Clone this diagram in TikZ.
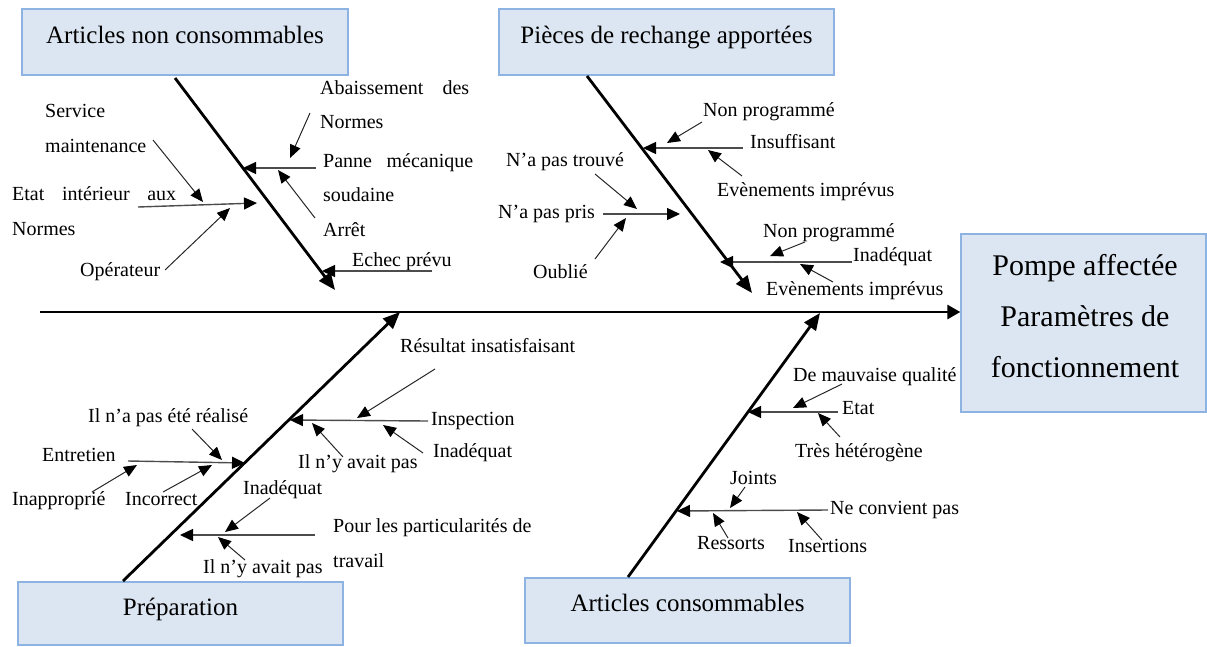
\documentclass[tikz,border=0pt]{standalone}
\usepackage{fontspec}
\setmainfont{Liberation Serif}
\usetikzlibrary{arrows.meta,positioning}

\definecolor{boxfill}{RGB}{220,230,242}
\definecolor{boxline}{RGB}{141,179,226}

\tikzset{
  cat/.style={draw=boxline, fill=boxfill, line width=1.3pt, inner sep=0pt, font=\fontsize{25}{30}\selectfont},
  lbl/.style={anchor=base west, inner sep=0pt},
  bone/.style={line width=2.8pt, -{Triangle[length=17pt,width=14pt]}},
  twig/.style={line width=1.4pt, draw=black!70, -{Triangle[length=13pt,width=12pt,color=black]}},
  hint/.style={line width=1pt, draw=black!85, -{Triangle[length=13pt,width=11pt,color=black]}},
}

\begin{document}
\begin{tikzpicture}[x=1pt, y=-1pt, font=\fontsize{20}{24}\selectfont]
\useasboundingbox (0,0) rectangle (1207,646);

\node[cat, minimum width=326pt, text height=34pt, text depth=32pt] (ancBox) at (185,42) {Articles non consommables};
\node[cat, minimum width=335pt, text height=34pt, text depth=32pt] (prBox) at (666.5,42) {Pièces de rechange apportées};
\node[cat, minimum width=325pt, text height=33pt, text depth=30pt] (prepBox) at (180.5,613.5) {Préparation};
\node[cat, minimum width=325pt, text height=33pt, text depth=32pt] (acBox) at (687.5,610.5) {Articles consommables};
\node[cat, minimum width=245pt, minimum height=178pt] (effet) at (1083.5,323) {};
\node[align=center, inner sep=0pt, font=\fontsize{30}{51}\selectfont] (effetTxt) at (1085,316) {Pompe affectée\\Paramètres de\\fonctionnement};

% arêtes principales
\coordinate (spineL) at (40,312);
\draw[line width=2.8pt, -{Triangle[length=13pt,width=14pt]}] (spineL) -- (spineL -| effet.west);
\coordinate (ancS) at (175,78);  \coordinate (ancT) at (335,290);
\coordinate (prS) at (587,76);   \coordinate (prT) at (752,293);
\coordinate (prepS) at (123,581); \coordinate (prepT) at (400,312);
\coordinate (acS) at (628,577);  \coordinate (acT) at (820,313);
\draw[bone] (ancS) -- (ancT);
\draw[bone] (prS) -- (prT);
\draw[bone] (prepS) -- (prepT);
\draw[bone] (acS) -- (acT);

% Articles non consommables
\node[lbl] (abais1) at (320,94) {\makebox[149pt][s]{Abaissement des}};
\node[lbl] (abais2) at (320,128) {Normes};
\node[lbl] (panne1) at (323,167) {\makebox[150pt][s]{Panne mécanique}};
\node[lbl] (panne2) at (323,201) {soudaine};
\node[lbl] (arret) at (323,236) {Arrêt};
\node[lbl] (echec) at (352,266) {Echec prévu};
\node[lbl] (serv1) at (45,117) {Service};
\node[lbl] (serv2) at (45,152) {maintenance};
\node[lbl] (etat1) at (12,200) {\makebox[164pt][s]{Etat intérieur aux}};
\node[lbl] (etat2) at (12,235) {Normes};
\node[lbl] (oper) at (80,276) {Opérateur};
\coordinate (panS) at (316,168); \coordinate (panT) at (243,168);
\coordinate (abaS) at (310,113); \coordinate (abaT) at (290,158);
\coordinate (arrS) at (315,218); \coordinate (arrT) at (278,170);
\coordinate (etaS) at (138,207); \coordinate (etaT) at (257,203);
\coordinate (serS) at (153,140); \coordinate (serT) at (203,202);
\coordinate (opeS) at (165,270); \coordinate (opeT) at (230,208);
\coordinate (echS) at (432,271); \coordinate (echT) at (322,271);
\draw[twig] (panS) -- (panT);
\draw[twig] (etaS) -- (etaT);
\draw[twig] (echS) -- (echT);
\draw[hint] (abaS) -- (abaT);
\draw[hint] (arrS) -- (arrT);
\draw[hint] (serS) -- (serT);
\draw[hint] (opeS) -- (opeT);

% Pièces de rechange apportées
\node[lbl] (nonprog1) at (703,116) {Non programmé};
\node[lbl] (insuf) at (750,148) {Insuffisant};
\node[lbl] (imprev1) at (717,196) {Evènements imprévus};
\node[lbl] (trouve) at (506,166) {N’a pas trouvé};
\node[lbl] (pris) at (498,218) {N’a pas pris};
\node[lbl] (oublie) at (533,278) {Oublié};
\node[lbl] (nonprog2) at (763,237) {Non programmé};
\node[lbl] (inadB) at (853,261) {Inadéquat};
\node[lbl] (imprev2) at (766,295) {Evènements imprévus};
\coordinate (insS) at (743,148); \coordinate (insT) at (643,148);
\coordinate (np1S) at (702,122); \coordinate (np1T) at (667,143);
\coordinate (ev1S) at (742,176); \coordinate (ev1T) at (708,150);
\coordinate (priS) at (603,214); \coordinate (priT) at (680,214);
\coordinate (trS) at (595,174);  \coordinate (trT) at (637,209);
\coordinate (ouS) at (595,259);  \coordinate (ouT) at (626,218);
\coordinate (inBS) at (852,262); \coordinate (inBT) at (720,262);
\coordinate (np2S) at (805,242); \coordinate (np2T) at (770,256);
\coordinate (ev2S) at (833,282); \coordinate (ev2T) at (800,264);
\draw[twig] (insS) -- (insT);
\draw[twig] (priS) -- (priT);
\draw[twig] (inBS) -- (inBT);
\draw[hint] (np1S) -- (np1T);
\draw[hint] (ev1S) -- (ev1T);
\draw[hint] (trS) -- (trT);
\draw[hint] (ouS) -- (ouT);
\draw[hint] (np2S) -- (np2T);
\draw[hint] (ev2S) -- (ev2T);

% Préparation
\node[lbl] (result) at (400,352) {Résultat insatisfaisant};
\node[lbl] (inspec) at (431,425) {Inspection};
\node[lbl] (inadC1) at (433,457) {Inadéquat};
\node[lbl] (avait1) at (298,468) {Il n’y avait pas};
\node[lbl] (realise) at (88,422) {Il n’a pas été réalisé};
\node[lbl] (entret) at (42,461) {Entretien};
\node[lbl] (inappr) at (12,505) {Inapproprié};
\node[lbl] (incorr) at (125,505) {Incorrect};
\node[lbl] (inadC2) at (243,494) {Inadéquat};
\node[lbl] (avait2) at (203,573) {Il n’y avait pas};
\node[lbl] (partic) at (333,532) {Pour les particularités de};
\node[lbl] (travail) at (333,567) {travail};
\coordinate (ispS) at (428,421); \coordinate (ispT) at (290,420);
\coordinate (resS) at (435,369); \coordinate (resT) at (357,418);
\coordinate (av1S) at (343,457); \coordinate (av1T) at (312,423);
\coordinate (ic1S) at (423,453); \coordinate (ic1T) at (383,425);
\coordinate (entS) at (128,461); \coordinate (entT) at (245,463);
\coordinate (reaS) at (192,429); \coordinate (reaT) at (222,460);
\coordinate (inpS) at (92,492);  \coordinate (inpT) at (137,465);
\coordinate (incS) at (163,492); \coordinate (incT) at (212,465);
\coordinate (parS) at (315,535); \coordinate (parT) at (180,535);
\coordinate (ic2S) at (270,498); \coordinate (ic2T) at (225,532);
\coordinate (av2S) at (245,560); \coordinate (av2T) at (218,537);
\draw[twig] (ispS) -- (ispT);
\draw[twig] (entS) -- (entT);
\draw[twig] (parS) -- (parT);
\draw[hint] (resS) -- (resT);
\draw[hint] (av1S) -- (av1T);
\draw[hint] (ic1S) -- (ic1T);
\draw[hint] (reaS) -- (reaT);
\draw[hint] (inpS) -- (inpT);
\draw[hint] (incS) -- (incT);
\draw[hint] (ic2S) -- (ic2T);
\draw[hint] (av2S) -- (av2T);

% Articles consommables
\node[lbl] (mauv) at (793,381) {De mauvaise qualité};
\node[lbl] (etatD) at (842,414) {Etat};
\node[lbl] (hetero) at (795,457) {Très hétérogène};
\node[lbl] (joints) at (730,484) {Joints};
\node[lbl] (convient) at (830,514) {Ne convient pas};
\node[lbl] (ressorts) at (697,549) {Ressorts};
\node[lbl] (insert) at (788,552) {Insertions};
\coordinate (etDS) at (838,412); \coordinate (etDT) at (748,412);
\coordinate (mauS) at (842,384); \coordinate (mauT) at (793,408);
\coordinate (hetS) at (840,437); \coordinate (hetT) at (818,413);
\coordinate (conS) at (828,510); \coordinate (conT) at (677,511);
\coordinate (joiS) at (745,487); \coordinate (joiT) at (730,508);
\coordinate (resoS) at (728,538); \coordinate (resoT) at (713,513);
\coordinate (insoS) at (822,540); \coordinate (insoT) at (797,512);
\draw[twig] (etDS) -- (etDT);
\draw[twig] (conS) -- (conT);
\draw[hint] (mauS) -- (mauT);
\draw[hint] (hetS) -- (hetT);
\draw[hint] (joiS) -- (joiT);
\draw[hint] (resoS) -- (resoT);
\draw[hint] (insoS) -- (insoT);
\end{tikzpicture}
\end{document}
